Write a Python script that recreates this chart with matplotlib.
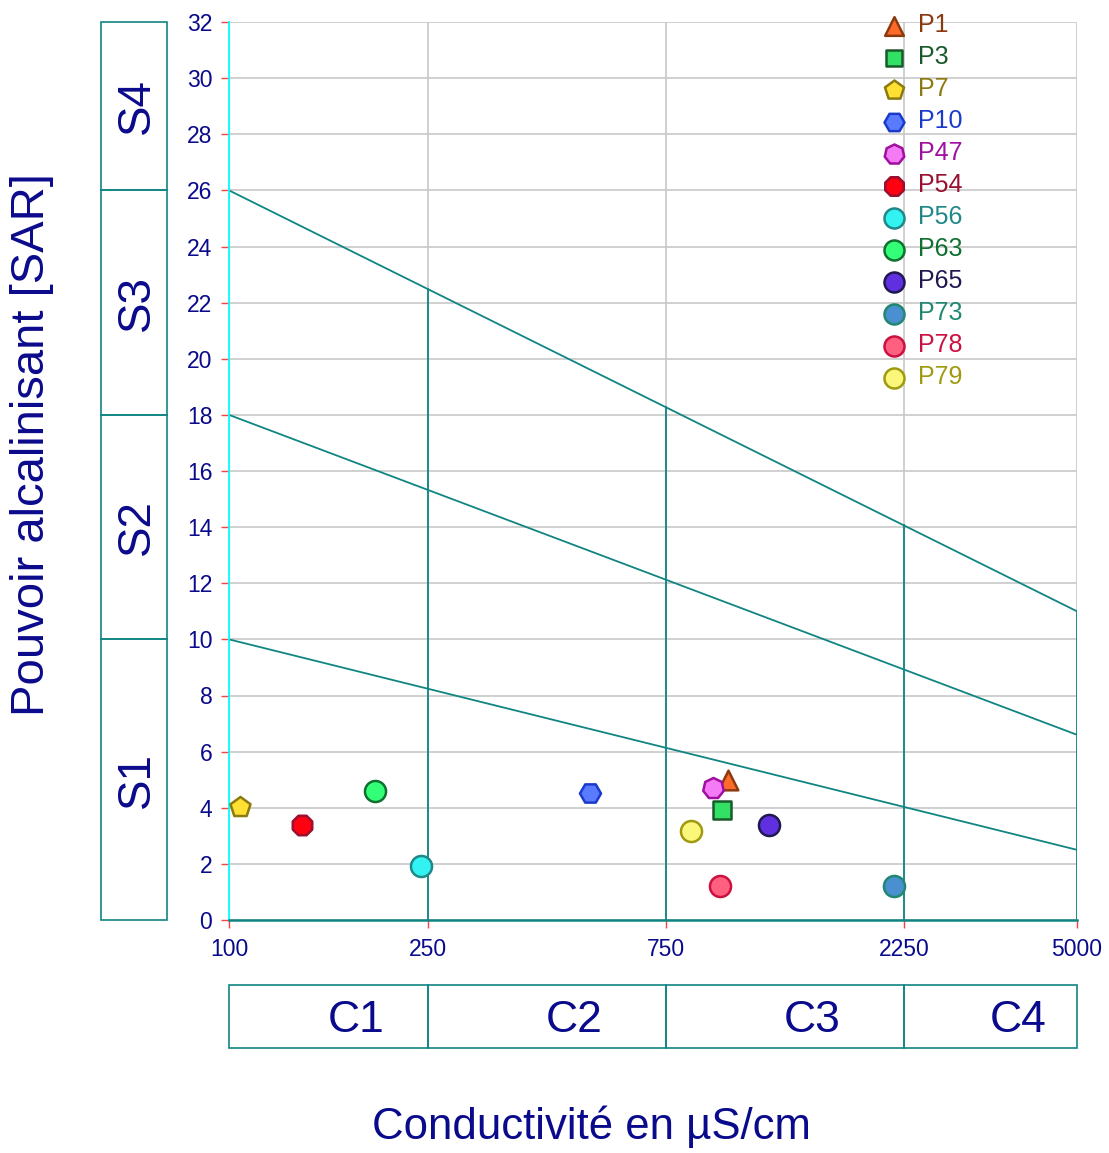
import numpy as np
import matplotlib
matplotlib.use("Agg")
import matplotlib.pyplot as plt
from matplotlib.patches import Rectangle

plt.rcParams['font.family'] = ['Liberation Sans', 'DejaVu Sans']

# echantillons
points = ['P1', 'P3', 'P7', 'P10', 'P47', 'P54', 'P56', 'P63', 'P65', 'P73', 'P78', 'P79']
conductivite = [1000, 972, 105, 528, 933, 140, 243, 196, 1208, 2152, 964, 843]
sar = [5.0, 3.92, 4.03, 4.54, 4.70, 3.39, 1.92, 4.61, 3.39, 1.21, 1.22, 3.17]
marqueurs = ['^', 's', 'p', 'H', (7, 0, 0), '8', 'o', 'o', 'o', 'o', 'o', 'o']
tailles = [200, 150, 230, 230, 230, 230, 230, 230, 230, 230, 230, 230]
remplissage = ['#ff6a2a', '#33e066', '#ffe033', '#5b7bff', '#f57af5', '#ff0010',
               '#33f2f2', '#33ff77', '#6030e0', '#4a90d0', '#ff6080', '#faf77a']
contour = ['#8b3a10', '#1a5a2a', '#8b7a10', '#1a3acc', '#a010a0', '#991030',
           '#208888', '#107030', '#201850', '#208870', '#cc1040', '#a09a10']

# limites du diagramme de Riverside
ec_min, ec_max = 100, 5000
ec_classes = [250, 750, 2250]
sar_gauche = [10, 18, 26]
sar_droite = [2.5, 6.6, 11.0]
classes_s = ['S1', 'S2', 'S3', 'S4']
classes_c = ['C1', 'C2', 'C3', 'C4']
x_ticks = [100, 250, 750, 2250, 5000]

navy = '#0a0a8c'
teal = '#108582'

fig = plt.figure(figsize=(11.09, 11.53), dpi=100)
ax = fig.add_axes([229/1109, 1-920/1153, 848/1109, 898/1153])
ax.set_xscale('log')
ax.set_xlim(ec_min, ec_max)
ax.set_ylim(0, 32)

ax.set_xticks(x_ticks)
ax.set_xticklabels([str(t) for t in x_ticks])
ax.xaxis.set_minor_locator(matplotlib.ticker.NullLocator())
ax.set_yticks(range(0, 33, 2))
ax.tick_params(axis='both', colors='#ff4040', length=6, width=1, labelsize=16.5,
               labelcolor=navy)
ax.tick_params(axis='x', pad=7)
ax.tick_params(axis='y', pad=6)
ax.grid(True, color='#c8c8c8', linewidth=1.2)
ax.set_axisbelow(True)
for s in ['top', 'right']:
    ax.spines[s].set_visible(False)
ax.spines['left'].set_color('#00ffff')
ax.spines['left'].set_linewidth(1.3)
ax.spines['bottom'].set_color(teal)
ax.spines['bottom'].set_linewidth(1.8)

lx = np.log10([ec_min, ec_max])
for a, b in zip(sar_gauche, sar_droite):
    ax.plot([ec_min, ec_max], [a, b], color=teal, lw=1.3, zorder=2)
for ec in ec_classes + [ec_max]:
    top = np.interp(np.log10(ec), lx, [sar_gauche[-1], sar_droite[-1]])
    ax.plot([ec, ec], [0, top], color=teal, lw=1.3, zorder=2)

for i in range(len(points)):
    ax.scatter(conductivite[i], sar[i], marker=marqueurs[i], s=tailles[i],
               facecolor=remplissage[i], edgecolor=contour[i], linewidths=1.8,
               label=points[i], zorder=5, clip_on=False)

leg = fig.legend(loc='upper left', bbox_to_anchor=(866/1109, 1-1/1153),
                 frameon=False, fontsize=18, markerscale=0.95, handletextpad=0.4,
                 labelspacing=0.32, handlelength=1.2, borderpad=0)
for t, c in zip(leg.get_texts(), contour):
    t.set_color(c)

# boites S
axs = fig.add_axes([101/1109, 1-920/1153, 66/1109, 898/1153])
axs.set_xlim(0, 1)
axs.set_ylim(0, 32)
axs.axis('off')
bornes = [0] + sar_gauche + [32]
for k in range(4):
    axs.add_patch(Rectangle((0, bornes[k]), 1, bornes[k+1]-bornes[k], fill=False,
                            edgecolor=teal, lw=1.2, clip_on=False))
    axs.text(0.55, (bornes[k] + bornes[k+1]) / 2, classes_s[k], rotation=90,
             ha='center', va='center', fontsize=33, color=navy)

# boites C
axc = fig.add_axes([229/1109, 1-1048/1153, 848/1109, 63/1153])
axc.set_xscale('log')
axc.set_xlim(ec_min, ec_max)
axc.set_ylim(0, 1)
axc.axis('off')
bx = [ec_min] + ec_classes + [ec_max]
for k in range(4):
    axc.add_patch(Rectangle((bx[k], 0), bx[k+1]-bx[k], 1, fill=False,
                            edgecolor=teal, lw=1.2, clip_on=False))
    xc = 10 ** ((np.log10(bx[k]) + np.log10(bx[k+1])) / 2 + 0.055)
    axc.text(xc, 0.43, classes_c[k], ha='center', va='center', fontsize=32,
             color=navy)

fig.text(32/1109, 1-445/1153, 'Pouvoir alcalinisant [SAR]', rotation=90,
         ha='center', va='center', fontsize=34, color=navy)
fig.text(591/1109, 1-1127/1153, 'Conductivité en µS/cm', ha='center',
         va='center', fontsize=31.5, color=navy)

fig.savefig('out.png', dpi=100)
